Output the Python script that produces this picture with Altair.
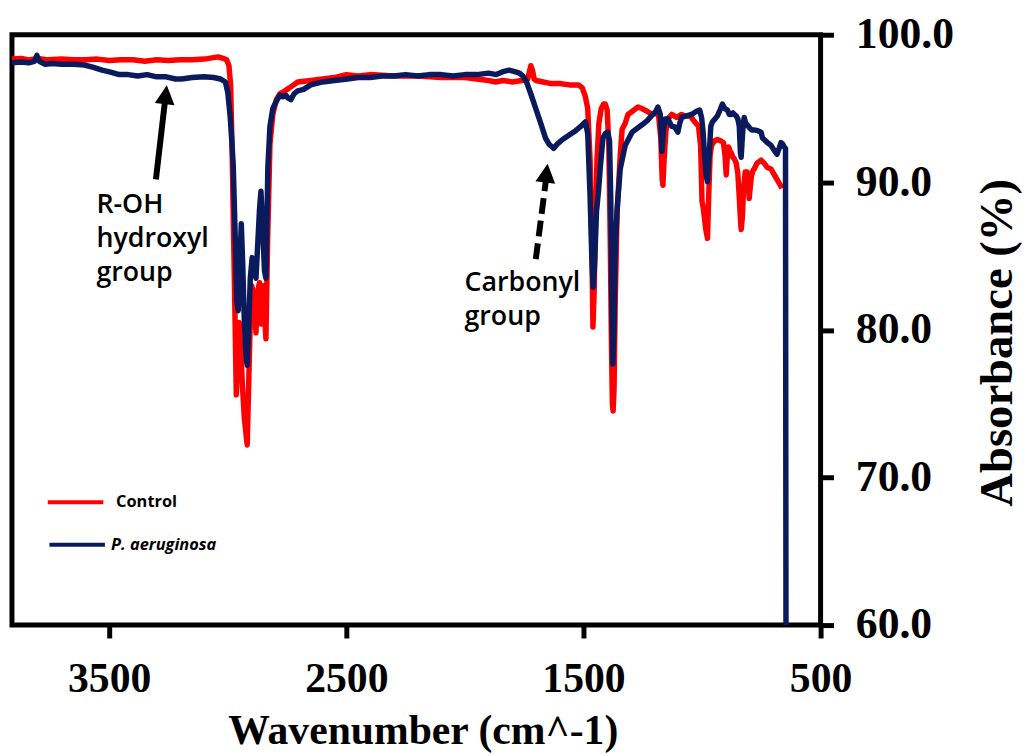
import altair as alt
import pandas as pd

# ---------------- data ----------------
control_wn = [
    3910, 3870, 3840, 3800, 3760, 3700, 3650, 3600, 3550, 3500,
    3450, 3400, 3350, 3300, 3250, 3200, 3150, 3100, 3060, 3040,
    3020, 3005, 2995, 2988, 2982, 2975, 2968, 2964, 2958, 2952,
    2946, 2938, 2930, 2922, 2918, 2913, 2906, 2899, 2890, 2881,
    2874, 2866, 2860, 2852, 2845, 2839, 2832, 2822, 2810, 2795,
    2780, 2768, 2740, 2705, 2650, 2600, 2550, 2500, 2450, 2400,
    2300, 2200, 2100, 2000, 1950, 1900, 1870, 1840, 1800, 1760,
    1735, 1722, 1715, 1708, 1700, 1670, 1640, 1600, 1560, 1521,
    1505, 1492, 1482, 1472, 1465, 1460, 1455, 1450, 1443, 1435,
    1425, 1415, 1408, 1400, 1393, 1387, 1382, 1378, 1375, 1371,
    1366, 1358, 1345, 1337, 1324, 1312, 1295, 1270, 1253, 1230,
    1211, 1195, 1183, 1174, 1168, 1165, 1160, 1152, 1144, 1128,
    1107, 1086, 1073, 1050, 1031, 1015, 1006, 1000, 995, 990,
    984, 977, 971, 966, 960, 948, 935, 920, 910, 903,
    898, 894, 889, 885, 880, 877, 870, 864, 856, 849,
    843, 838, 835, 830, 825, 818, 810, 805, 801, 797,
    792, 785, 780, 768, 751, 738, 725, 709, 695, 684,
    673, 663,
]
control_abs = [
    98.35, 98.4, 98.3, 98.4, 98.3, 98.35, 98.3, 98.3, 98.35, 98.25,
    98.3, 98.3, 98.2, 98.3, 98.25, 98.3, 98.3, 98.35, 98.45, 98.5,
    98.4, 98.3, 97.9, 96.6, 92.5, 86.0, 79.5, 75.6, 77.8, 80.5,
    79.0, 76.2, 74.0, 72.8, 72.2, 75.5, 80.0, 83.0, 82.4, 79.8,
    82.6, 83.2, 80.4, 83.0, 81.0, 79.4, 86.0, 92.6, 94.6, 95.6,
    96.0, 96.1, 96.4, 96.8, 96.9, 97.0, 97.1, 97.3, 97.2, 97.3,
    97.2, 97.2, 97.1, 97.1, 97.0, 96.9, 96.8, 96.9, 96.8, 96.9,
    97.0, 97.9, 97.6, 97.0, 96.9, 96.8, 96.7, 96.7, 96.6, 96.6,
    96.4, 95.8, 95.0, 91.5, 86.0, 80.2, 82.5, 87.0, 91.5, 94.0,
    95.0, 95.3, 95.3, 94.9, 92.5, 86.0, 79.0, 75.0, 74.5, 76.0,
    82.0, 88.0, 91.8, 93.6, 94.0, 94.6, 94.8, 95.1, 95.0, 94.8,
    94.6, 94.7, 94.5, 93.0, 90.2, 89.8, 91.5, 93.5, 94.3, 94.6,
    94.4, 94.6, 94.5, 94.5, 94.1, 93.8, 92.5, 88.7, 88.3, 87.6,
    86.8, 86.2, 89.5, 91.8, 92.5, 92.8, 92.9, 92.8, 92.7, 91.8,
    90.5, 91.6, 92.4, 92.3, 91.9, 92.0, 91.7, 91.6, 91.3, 90.6,
    89.0, 87.5, 86.8, 87.6, 89.5, 90.7, 90.7, 90.0, 88.9, 89.6,
    90.4, 90.8, 90.9, 91.3, 91.5, 91.3, 91.0, 90.9, 90.5, 90.2,
    89.9, 89.6,
]

pa_wn = [
    3910, 3870, 3840, 3815, 3805, 3795, 3770, 3740, 3700, 3650,
    3605, 3570, 3530, 3490, 3458, 3420, 3380, 3340, 3300, 3260,
    3220, 3195, 3150, 3100, 3060, 3030, 3010, 3000, 2990, 2983,
    2977, 2968, 2962, 2956, 2950, 2943, 2937, 2930, 2923, 2918,
    2912, 2905, 2897, 2889, 2881, 2873, 2866, 2860, 2853, 2845,
    2839, 2831, 2822, 2810, 2795, 2780, 2768, 2755, 2745, 2734,
    2720, 2705, 2680, 2650, 2600, 2550, 2496, 2450, 2400, 2350,
    2300, 2250, 2200, 2150, 2100, 2050, 2000, 1950, 1900, 1868,
    1840, 1814, 1790, 1770, 1755, 1740, 1720, 1701, 1680, 1660,
    1646, 1626, 1610, 1588, 1560, 1533, 1510, 1492, 1482, 1472,
    1465, 1459, 1453, 1445, 1436, 1429, 1418, 1408, 1398, 1390,
    1385, 1380, 1376, 1372, 1366, 1358, 1345, 1324, 1295, 1270,
    1253, 1230, 1211, 1195, 1186, 1176, 1169, 1162, 1155, 1144,
    1128, 1115, 1102, 1094, 1086, 1065, 1044, 1025, 1010, 1002,
    996, 990, 983, 977, 970, 963, 956, 945, 935, 924,
    914, 905, 893, 885, 877, 870, 864, 856, 849, 843,
    838, 835, 831, 826, 822, 816, 810, 800, 790, 780,
    765, 751, 745, 738, 725, 709, 697, 684, 675, 667,
    660, 654, 648, 646,
]
pa_abs = [
    98.1, 98.15, 98.1, 98.2, 98.6, 98.2, 98.0, 98.05, 98.0, 98.0,
    97.95, 97.8, 97.6, 97.45, 97.3, 97.3, 97.2, 97.3, 97.15, 97.15,
    97.0, 97.0, 97.1, 97.15, 97.1, 97.0, 96.8, 96.1, 94.5, 92.8,
    91.2, 86.0, 82.0, 81.3, 84.0, 87.2, 84.5, 80.5, 78.2, 77.6,
    80.0, 83.5, 84.9, 84.6, 83.5, 86.0, 88.2, 89.4, 87.0, 84.0,
    83.5, 91.0, 93.8, 95.0, 95.5, 95.9, 95.8, 95.9, 95.7, 95.6,
    96.0, 96.2, 96.3, 96.6, 96.8, 96.9, 97.0, 97.1, 97.1, 97.2,
    97.2, 97.3, 97.2, 97.3, 97.3, 97.2, 97.3, 97.3, 97.4, 97.3,
    97.5, 97.6, 97.5, 97.4, 97.2, 96.8, 95.9, 95.0, 94.0, 93.0,
    92.6, 92.3, 92.6, 92.9, 93.2, 93.5, 93.8, 94.1, 93.3, 89.0,
    85.0, 82.9, 84.5, 88.0, 89.5, 91.0, 93.0, 93.3, 93.4, 92.8,
    89.0, 81.0, 77.7, 79.5, 85.5, 88.2, 90.9, 92.5, 93.4, 93.7,
    93.9, 94.2, 94.55, 94.8, 95.1, 94.6, 92.1, 93.6, 94.3, 94.3,
    93.8, 93.75, 93.4, 94.0, 94.4, 94.5, 94.6, 94.8, 94.9, 94.4,
    93.5, 92.0, 90.5, 90.05, 91.8, 93.8, 94.1, 94.3, 94.5, 94.9,
    95.3, 95.0, 94.9, 94.6, 94.6, 94.7, 94.6, 94.5, 94.3, 93.8,
    92.0, 91.7, 92.8, 94.0, 94.4, 94.0, 93.9, 93.7, 93.55, 93.55,
    93.5, 93.4, 93.0, 92.9, 92.7, 92.5, 92.2, 91.9, 92.3, 92.7,
    92.6, 92.4, 92.3, 60.0,
]

series_names = ["Control", "P. aeruginosa"]
series_colors = ["#ff0000", "#0a1a5c"]

x_ticks = [3500, 2500, 1500, 500]
y_ticks = [60, 70, 80, 90, 100]

# annotations (data coordinates: wavenumber, absorbance of the first line's baseline)
note_text = ["R-OH\nhydroxyl\ngroup", "Carbonyl\ngroup"]
note_wn = [3554, 2002]
note_abs = [87.9, 82.65]

arrow_style = ["solid", "dashed"]
arrow_tail_wn = [3303, 1701]
arrow_tail_abs = [90.2, 84.8]
arrow_neck_wn = [3264, 1657]
arrow_neck_abs = [95.6, 90.3]
arrow_tip_wn = [3257, 1651]
arrow_tip_abs = [96.57, 91.26]
arrow_angle = [6.6, 7.1]

legend_start_wn = [3759, 3752]
legend_end_wn = [3525, 3518]
legend_abs = [68.33, 65.44]
legend_text_wn = [3471, 3492]

# ---------------- tables ----------------
spec = pd.concat([
    pd.DataFrame({"wn": control_wn, "abs": control_abs, "series": series_names[0],
                  "idx": range(len(control_wn))}),
    pd.DataFrame({"wn": pa_wn, "abs": pa_abs, "series": series_names[1],
                  "idx": range(len(pa_wn))}),
], ignore_index=True)

notes = pd.DataFrame({"wn": note_wn, "abs": note_abs, "text": note_text})
shafts = pd.DataFrame({
    "style": arrow_style,
    "wn": arrow_tail_wn, "abs": arrow_tail_abs,
    "wn2": arrow_neck_wn, "abs2": arrow_neck_abs,
})
heads_df = pd.DataFrame({"wn": arrow_tip_wn, "abs": arrow_tip_abs, "angle": arrow_angle})
legend_lines_df = pd.DataFrame({
    "series": series_names, "wn": legend_start_wn, "wn2": legend_end_wn, "abs": legend_abs,
})
legend_text_df = pd.DataFrame({
    "series": series_names, "wn": legend_text_wn, "abs": legend_abs,
})

xs = alt.Scale(domain=[500, 3910], reverse=True, nice=False, zero=False)
ys = alt.Scale(domain=[60, 100], nice=False, zero=False)
cs = alt.Scale(domain=series_names, range=series_colors)

SERIF = "Liberation Serif"
SANS = "Open Sans"

x_axis = alt.Axis(
    values=x_ticks, format="d", title="Wavenumber (cm^-1)",
    labelFont=SERIF, labelFontSize=42, labelFontWeight="bold", labelColor="black",
    labelPadding=21, labelFlush=False, labelOverlap=False,
    tickSize=13, tickWidth=5, tickColor="black",
    domain=False, grid=False,
    titleFont=SERIF, titleFontSize=42, titleFontWeight="bold", titleColor="black",
    titleX=414, titleY=119, titleBaseline="alphabetic", titleAlign="center",
)
y_axis = alt.Axis(
    orient="right", values=y_ticks, format=".1f", title="Absorbance (%)",
    labelFont=SERIF, labelFontSize=44, labelFontWeight="bold", labelColor="black",
    labelAlign="left", labelPadding=22, labelFlush=False, labelOverlap=False,
    tickSize=13, tickWidth=5, tickColor="black",
    domain=False, grid=False,
    titleFont=SERIF, titleFontSize=47, titleFontWeight="bold", titleColor="black",
    titleAngle=270, titleX=178, titleY=310, titleBaseline="middle", titleAlign="center",
)

X = alt.X("wn:Q", scale=xs, axis=x_axis)
Y = alt.Y("abs:Q", scale=ys, axis=y_axis)

lines = alt.Chart(spec).mark_line(strokeWidth=5.5, strokeJoin="round").encode(
    x=X, y=Y,
    color=alt.Color("series:N", scale=cs, legend=None),
    order=alt.Order("idx:Q"),
)

solid_shaft = alt.Chart(shafts).transform_filter("datum.style == 'solid'").mark_rule(
    strokeWidth=6, color="black").encode(x=X, x2="wn2:Q", y=Y, y2="abs2:Q")
dashed_shaft = alt.Chart(shafts).transform_filter("datum.style == 'dashed'").mark_rule(
    strokeWidth=6, color="black", strokeDash=[16, 7]).encode(x=X, x2="wn2:Q", y=Y, y2="abs2:Q")
heads = alt.Chart(heads_df).mark_point(
    shape="M0,0 L-1,1.9 L1,1.9 Z", size=400, filled=True, color="black",
    opacity=1, strokeWidth=0).encode(
    x=X, y=Y, angle=alt.Angle("angle:Q", scale=None),
)
note_marks = alt.Chart(notes).mark_text(
    align="left", baseline="alphabetic", font=SANS, fontSize=27, fontWeight=600,
    color="black", lineBreak="\n", lineHeight=34).encode(x=X, y=Y, text="text:N")

legend_lines = alt.Chart(legend_lines_df).mark_rule(strokeWidth=4).encode(
    x=X, x2="wn2:Q", y=Y,
    color=alt.Color("series:N", scale=cs, legend=None),
)
legend_text_plain = alt.Chart(legend_text_df).transform_filter(
    "datum.series == 'Control'").mark_text(
    align="left", baseline="middle", font=SANS, fontSize=16.5, fontWeight="bold",
    color="black").encode(x=X, y=Y, text="series:N")
legend_text_italic = alt.Chart(legend_text_df).transform_filter(
    "datum.series != 'Control'").mark_text(
    align="left", baseline="middle", font=SANS, fontSize=16.5, fontWeight="bold",
    fontStyle="italic", color="black").encode(x=X, y=Y, text="series:N")

chart = alt.layer(
    lines, solid_shaft, dashed_shaft, heads, note_marks,
    legend_lines, legend_text_plain, legend_text_italic,
).properties(
    width=815, height=595,
    autosize=alt.AutoSizeParams(type="none"),
    padding={"left": 4, "top": 24, "right": 204, "bottom": 129},
    background="white",
).configure_view(
    stroke="black", strokeWidth=5,
)

chart.save("out.html", embed_options={"renderer": "svg", "actions": False})
